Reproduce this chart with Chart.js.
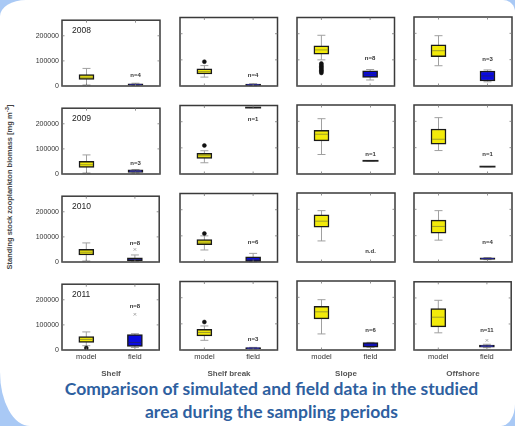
<!DOCTYPE html>
<html>
<head>
<meta charset="utf-8">
<script src="https://cdn.jsdelivr.net/npm/chart.js@4"></script>
<style>
  html, body { margin: 0; padding: 0; }
  body { width: 515px; height: 426px; background: #a9c9f5; position: relative; overflow: hidden;
         font-family: "Liberation Sans", Arial, sans-serif; }
  #sheet { position: absolute; left: 0; top: 0; width: 515px; height: 426px; background: #fff;
           border-radius: 26px 12px 14px 30px / 16px 12px 22px 54px; }
  canvas { position: absolute; }
  .txt { position: absolute; color: #333; white-space: nowrap; }
  .region { top: 369px; font-size: 8px; font-weight: bold; color: #555; transform: translateX(-50%); }
  #ylabel { left: 9px; top: 187px; font-size: 7.5px; font-weight: bold; color: #444;
            transform: translate(-50%, -50%) rotate(-90deg); }
  #title { left: 0; width: 543px; top: 377px; text-align: center; font-family: Lato, sans-serif;
           font-weight: bold; font-size: 17.5px; line-height: 23px; color: #2e60a0; }
</style>
</head>
<body>
<div id="sheet"></div>
<div id="ylabel" class="txt">Standing stock zooplankton biomass [mg m<sup style="font-size:6px">-3</sup>]</div>
<div id="title" class="txt">Comparison of simulated and field data in the studied<br>area during the sampling periods</div>
<script>
const years = ['2008', '2009', '2010', '2011'];
const regions = ['Shelf', 'Shelf break', 'Slope', 'Offshore'];
const sources = ['model', 'field'];
const yTicks = [0, 100000, 200000];

// [min, q1, median, q3, max] per year (rows) and region (columns)
const modelStats = [
  [[4000, 26000, 35000, 45000, 70000], [34000, 46000, 55000, 66000, 78000], [100000, 122000, 138000, 154000, 194000], [77000, 111000, 134000, 156000, 191000]],
  [[4000, 26000, 37000, 50000, 76000], [43000, 60000, 70000, 79000, 89000], [74000, 126000, 151000, 166000, 210000], [89000, 113000, 132000, 171000, 214000]],
  [[4000, 28000, 39000, 50000, 76000], [46000, 66000, 76000, 86000, 100000], [80000, 132000, 155000, 179000, 195000], [83000, 109000, 135000, 159000, 195000]],
  [[17000, 30000, 42000, 53000, 72000], [37000, 54000, 67000, 79000, 92000], [61000, 118000, 145000, 166000, 191000], [66000, 89000, 126000, 159000, 191000]]
];
const modelOutliers = [
  [[], [93000], [50000, 55000, 60000, 65000, 70000, 75000, 80000, 86000], []],
  [[], [109000], [], []],
  [[], [109000], [], []],
  [[8000], [107000], [], []]
];
const fieldStats = [
  [[2000, 3000, 6000, 9000, 11000], [1000, 2000, 5000, 7000, 9000], [23000, 33000, 45000, 58000, 63000], [16000, 19000, 38000, 57000, 61000]],
  [[4000, 6000, 11000, 17000, 18000], [254000, 254000, 254000, 254000, 254000], [50000, 50000, 50000, 50000, 50000], [28000, 28000, 28000, 28000, 28000]],
  [[3000, 5000, 10000, 17000, 28000], [1000, 2000, 10000, 20000, 33000], null, [9000, 10000, 13000, 16000, 17000]],
  [[10000, 14000, 30000, 61000, 65000], [4000, 5000, 7000, 9000, 10000], [10000, 11000, 19000, 28000, 29000], [9000, 11000, 15000, 19000, 22000]]
];
const fieldOutliers = [
  [[], [], [], []],
  [[], [], [], []],
  [[50000], [], [], []],
  [[142000], [], [], [37000]]
];
const fieldNotes = [
  ['n=4', 'n=4', 'n=8', 'n=3'],
  ['n=3', 'n=1', 'n=1', 'n=1'],
  ['n=8', 'n=6', 'n.d.', 'n=4'],
  ['n=8', 'n=3', 'n=6', 'n=11']
];
const noteAt = [
  [41000, 41000, 107000, 100000],
  [41000, 208000, 74000, 74000],
  [74000, 74000, 41000, 74000],
  [175000, 41000, 74000, 74000]
];

const colLeft = [62, 180, 297, 414];
const rowTop = [17, 105, 193, 281];
const plotW = 98, plotH = 69, padL = 46, padT = 4, padR = 4, padB = 16;

// whiskers, medians, frame and notes
const boxPlugin = {
  id: 'boxExtras',
  beforeDatasetsDraw(chart) {
    const { ctx, scales: { x, y } } = chart;
    const p = chart.options.plugins.boxExtras;
    ctx.save();
    ctx.strokeStyle = '#a0a0a0';
    ctx.lineWidth = 1;
    p.stats.forEach((s, i) => {
      if (!s) return;
      const cx = x.getPixelForValue(i);
      ctx.beginPath();
      ctx.moveTo(cx, y.getPixelForValue(s[0]));
      ctx.lineTo(cx, y.getPixelForValue(s[4]));
      ctx.moveTo(cx - 4, y.getPixelForValue(s[0]));
      ctx.lineTo(cx + 4, y.getPixelForValue(s[0]));
      ctx.moveTo(cx - 4, y.getPixelForValue(s[4]));
      ctx.lineTo(cx + 4, y.getPixelForValue(s[4]));
      ctx.stroke();
    });
    ctx.restore();
  },
  afterDatasetsDraw(chart) {
    const { ctx, chartArea: a, scales: { x, y } } = chart;
    const p = chart.options.plugins.boxExtras;
    ctx.save();
    p.stats.forEach((s, i) => {
      if (!s) return;
      const cx = x.getPixelForValue(i);
      const my = y.getPixelForValue(s[2]);
      ctx.beginPath();
      if (s[1] === s[3]) {
        ctx.strokeStyle = '#222';
        ctx.lineWidth = 1.8;
        ctx.moveTo(cx - 8, my);
        ctx.lineTo(cx + 8, my);
      } else {
        ctx.strokeStyle = i === 0 ? '#8a8a30' : '#202070';
        ctx.lineWidth = 0.8;
        ctx.moveTo(cx - 6.5, my);
        ctx.lineTo(cx + 6.5, my);
      }
      ctx.stroke();
    });
    // frame and inward ticks
    ctx.strokeStyle = '#3a3a3a';
    ctx.lineWidth = 1.5;
    ctx.strokeRect(a.left, a.top, a.right - a.left, a.bottom - a.top);
    ctx.lineWidth = 0.8;
    ctx.strokeStyle = '#777';
    ctx.beginPath();
    [0, 1].forEach(i => {
      const tx = x.getPixelForValue(i);
      ctx.moveTo(tx, a.top); ctx.lineTo(tx, a.top + 2.5);
      ctx.moveTo(tx, a.bottom); ctx.lineTo(tx, a.bottom - 2.5);
    });
    yTicks.forEach(v => {
      const ty = y.getPixelForValue(v);
      ctx.moveTo(a.left, ty); ctx.lineTo(a.left + 2.5, ty);
      ctx.moveTo(a.right, ty); ctx.lineTo(a.right - 2.5, ty);
    });
    ctx.stroke();
    ctx.fillStyle = '#333';
    ctx.textAlign = 'center';
    ctx.textBaseline = 'middle';
    ctx.font = 'bold 6px "Liberation Sans", Arial, sans-serif';
    ctx.fillText(p.note, x.getPixelForValue(1), y.getPixelForValue(p.noteAt));
    if (p.year) {
      ctx.textAlign = 'left';
      ctx.font = '8.5px "Liberation Sans", Arial, sans-serif';
      ctx.fillStyle = '#222';
      ctx.fillText(p.year, a.left + 10, a.top + 10);
    }
    ctx.restore();
  }
};

years.forEach((year, r) => {
  regions.forEach((region, c) => {
    const canvas = document.createElement('canvas');
    canvas.width = padL + plotW + padR;
    canvas.height = padT + plotH + padB;
    canvas.style.left = (colLeft[c] - padL) + 'px';
    canvas.style.top = (rowTop[r] - padT) + 'px';
    canvas.style.width = canvas.width + 'px';
    canvas.style.height = canvas.height + 'px';
    document.body.appendChild(canvas);

    const ms = modelStats[r][c];
    const fs = fieldStats[r][c];
    const boxes = [[ms[1], ms[3]], fs ? [fs[1], fs[3]] : null];

    new Chart(canvas, {
      data: {
        labels: sources,
        datasets: [
          {
            type: 'bar',
            data: boxes,
            backgroundColor: ['#f2ea0a', '#0a0ae0'],
            borderColor: '#1a1a1a',
            borderWidth: 1.5,
            borderSkipped: false,
            barThickness: 15
          },
          {
            type: 'line',
            showLine: false,
            data: modelOutliers[r][c].map(v => ({ x: 'model', y: v })),
            pointStyle: 'circle',
            pointRadius: 2,
            pointBorderWidth: 0.5,
            pointBackgroundColor: '#111',
            pointBorderColor: '#111'
          },
          {
            type: 'line',
            showLine: false,
            data: fieldOutliers[r][c].map(v => ({ x: 'field', y: v })),
            pointStyle: 'crossRot',
            pointRadius: 1.8,
            pointBorderWidth: 0.8,
            pointBorderColor: '#999'
          }
        ]
      },
      options: {
        responsive: false,
        animation: false,
        events: [],
        layout: { padding: { left: 0, top: padT, right: padR, bottom: 0 } },
        plugins: {
          legend: { display: false },
          tooltip: { enabled: false },
          boxExtras: {
            stats: [ms, fs],
            note: fieldNotes[r][c],
            noteAt: noteAt[r][c],
            year: c === 0 ? year : ''
          }
        },
        scales: {
          x: {
            type: 'category',
            offset: true,
            grid: { display: false, drawTicks: false },
            border: { display: false },
            ticks: {
              display: r === years.length - 1,
              color: '#333',
              font: { size: 7.5, family: '"Liberation Sans", Arial, sans-serif' },
              padding: 2,
              maxRotation: 0
            },
            afterFit(s) { s.height = padB; }
          },
          y: {
            min: 0,
            max: 262000,
            grid: { display: false, drawTicks: false },
            border: { display: false },
            afterBuildTicks(s) { s.ticks = yTicks.map(v => ({ value: v })); },
            ticks: {
              display: c === 0,
              color: '#333',
              padding: 3,
              font: { size: 7, family: '"Liberation Sans", Arial, sans-serif' },
              callback: v => String(v)
            },
            afterFit(s) { s.width = padL; }
          }
        }
      },
      plugins: [boxPlugin]
    });
  });
});

regions.forEach((region, c) => {
  const d = document.createElement('div');
  d.className = 'txt region';
  d.style.left = (colLeft[c] + plotW / 2) + 'px';
  d.textContent = region;
  document.body.appendChild(d);
});
</script>
</body>
</html>
